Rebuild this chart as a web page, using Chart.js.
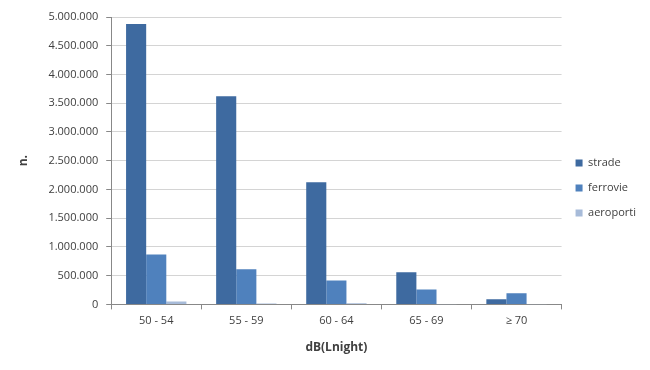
<!DOCTYPE html>
<html>
<head>
<meta charset="utf-8">
<script src="https://cdn.jsdelivr.net/npm/chart.js@4/dist/chart.umd.min.js"></script>
<style>
  html, body { margin: 0; padding: 0; background: #fff; }
  #wrap { width: 650px; height: 370px; }
</style>
</head>
<body>
<div id="wrap"><canvas id="grafico"></canvas></div>
<script>
// categorie (fasce di rumore notturno)
const categorie = ['50 - 54', '55 - 59', '60 - 64', '65 - 69', '\u2265 70'];

// persone esposte per sorgente
const strade = [4880000, 3620000, 2125000, 560000, 90000];
const ferrovie = [870000, 610000, 415000, 260000, 195000];
const aeroporti = [50000, 15000, 18000, 3000, 1000];

const nomiSerie = ['strade', 'ferrovie', 'aeroporti'];
const colori = ['#3E6AA0', '#4F81BD', '#A7BBD9'];

// formato con punto delle migliaia
function formatoIt(v) {
    return String(v).replace(/\B(?=(\d{3})+(?!\d))/g, '.');
}

const font = "'Open Sans', 'Liberation Sans', sans-serif";
Chart.defaults.font.family = font;
Chart.defaults.color = '#404040';

new Chart(document.getElementById('grafico').getContext('2d'), {
    type: 'bar',
    data: {
        labels: categorie,
        datasets: [strade, ferrovie, aeroporti].map((serie, i) => ({
            label: nomiSerie[i],
            data: serie,
            backgroundColor: colori[i],
            categoryPercentage: 0.67,
            barPercentage: 1.0
        }))
    },
    options: {
        responsive: true,
        maintainAspectRatio: false,
        animation: false,
        layout: { padding: { top: 17, right: 4, left: 12, bottom: 11 } },
        plugins: {
            legend: {
                position: 'right',
                labels: {
                    boxWidth: 7,
                    boxHeight: 7,
                    padding: 14,
                    font: { size: 11 },
                    color: '#404040'
                }
            },
            tooltip: { enabled: false }
        },
        scales: {
            x: {
                grid: {
                    drawOnChartArea: false,
                    drawTicks: true,
                    tickLength: 5,
                    color: '#888'
                },
                border: { color: '#888' },
                ticks: { font: { size: 11 }, color: '#404040', padding: 5 },
                title: {
                    display: true,
                    text: 'dB(Lnight)',
                    font: { size: 12, weight: 'bold' },
                    color: '#404040',
                    padding: { top: 8 }
                }
            },
            y: {
                min: 0,
                max: 5000000,
                ticks: {
                    stepSize: 500000,
                    font: { size: 11 },
                    color: '#404040',
                    padding: 8,
                    callback: v => formatoIt(v)
                },
                grid: {
                    color: '#d4d4d4',
                    tickLength: 5,
                    tickColor: '#888'
                },
                border: { color: '#888' },
                title: {
                    display: true,
                    text: 'n.',
                    font: { size: 12, weight: 'bold' },
                    color: '#404040',
                    padding: { bottom: 10 }
                }
            }
        }
    }
});
</script>
</body>
</html>
